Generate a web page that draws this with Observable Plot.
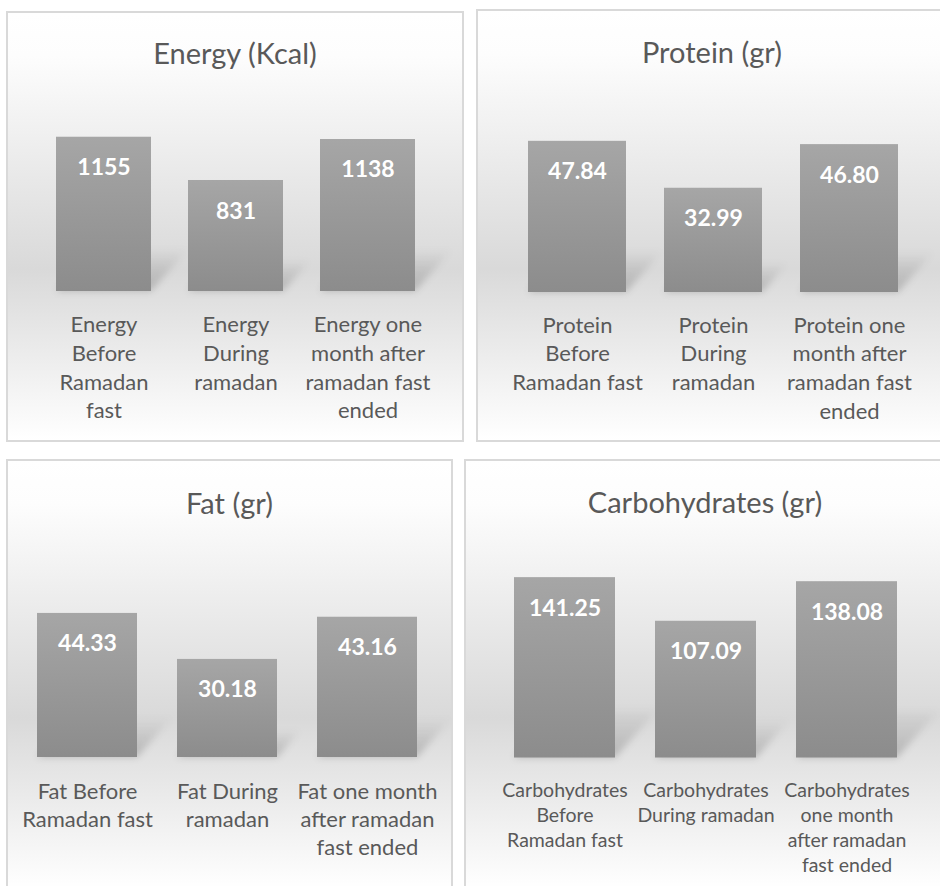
<!DOCTYPE html>
<html>
<head>
<meta charset="utf-8">
<script src="https://cdn.jsdelivr.net/npm/d3@7"></script>
<script src="https://cdn.jsdelivr.net/npm/@observablehq/plot@0.6"></script>
<style>
  html, body { margin: 0; padding: 0; }
  body { width: 940px; height: 886px; overflow: hidden; position: relative; background: #ffffff; font-family: Lato, "Open Sans", sans-serif; }
  .panel { position: absolute; box-sizing: border-box; border: 2px solid #d9d9d9;
    background: linear-gradient(to bottom, #ffffff 0%, #fdfdfd 10%, #d9d9d9 60%, #ececec 80%, #ffffff 100%); }
  .panel svg { position: absolute; left: -2px; top: -2px; }
  .title { position: absolute; left: -2px; right: -2px; text-align: center; color: #595959;
    font-family: Lato, sans-serif; font-size: 29px; line-height: 1.2; white-space: nowrap; }
</style>
</head>
<body>
<div id="root"></div>
<script>
// ---------- data ----------
const energyCategories = ["Energy\nBefore\nRamadan\nfast", "Energy\nDuring\nramadan", "Energy one\nmonth after\nramadan fast\nended"];
const energyValues = [1155, 831, 1138];

const proteinCategories = ["Protein\nBefore\nRamadan fast", "Protein\nDuring\nramadan", "Protein one\nmonth after\nramadan fast\nended"];
const proteinValues = [47.84, 32.99, 46.80];

const fatCategories = ["Fat Before\nRamadan fast", "Fat During\nramadan", "Fat one month\nafter ramadan\nfast ended"];
const fatValues = [44.33, 30.18, 43.16];

const carbCategories = ["Carbohydrates\nBefore\nRamadan fast", "Carbohydrates\nDuring ramadan", "Carbohydrates\none month\nafter ramadan\nfast ended"];
const carbValues = [141.25, 107.09, 138.08];

const panelTitles = ["Energy (Kcal)", "Protein (gr)", "Fat (gr)", "Carbohydrates (gr)"];

// ---------- layout ----------
const panels = [
  {title: panelTitles[0], cats: energyCategories, values: energyValues, fmt: d3.format("d"),
   left: 6, top: 11, width: 458, height: 431, titleTop: 23, xRange: [30.25, 427.75], yMax: 1400, yRange: [280, 93], catFont: 22, catLH: 1.3, catDy: 20.6},
  {title: panelTitles[1], cats: proteinCategories, values: proteinValues, fmt: d3.format(".2f"),
   left: 476, top: 9, width: 472, height: 433, titleTop: 24, xRange: [31.75, 441.25], yMax: 60, yRange: [283, 93.4], catFont: 22, catLH: 1.3, catDy: 20},
  {title: panelTitles[2], cats: fatCategories, values: fatValues, fmt: d3.format(".2f"),
   left: 6, top: 459, width: 447, height: 432, titleTop: 25, xRange: [10, 431.5], yMax: 60, yRange: [298, 103], catFont: 22, catLH: 1.28, catDy: 21},
  {title: panelTitles[3], cats: carbCategories, values: carbValues, fmt: d3.format(".2f"),
   left: 464, top: 459, width: 482, height: 432, titleTop: 24, xRange: [30, 453], yMax: 160, yRange: [298.5, 94.2], catFont: 19.5, catLH: 1.28, catDy: 21}
];

const root = document.getElementById("root");

panels.forEach((p, i) => {
  const div = document.createElement("div");
  div.className = "panel";
  Object.assign(div.style, {left: p.left + "px", top: p.top + "px", width: p.width + "px", height: p.height + "px"});
  root.appendChild(div);

  const data = p.cats.map((c, j) => ({cat: c, value: p.values[j]}));

  const chart = Plot.plot({
    width: p.width,
    height: p.height,
    margin: 0,
    style: {background: "transparent", maxWidth: "none", overflow: "visible"},
    x: {type: "band", domain: p.cats, range: p.xRange, paddingInner: 0.283, paddingOuter: 0.1415, axis: null},
    y: {domain: [0, p.yMax], range: p.yRange, axis: null},
    marks: [
      // perspective shadow (transformed after render)
      Plot.barY(data, {x: "cat", y: "value", fill: `url(#shadowGrad${i})`}),
      // bars
      Plot.barY(data, {x: "cat", y: "value", fill: `url(#barGrad${i})`}),
      // value labels
      Plot.text(data, {x: "cat", y: "value", text: d => p.fmt(d.value), lineAnchor: "bottom", dy: 38,
        fill: "#ffffff", fontSize: 23, fontWeight: "bold", fontFamily: "Lato, sans-serif"}),
      // category labels
      Plot.text(data, {x: "cat", y: 0, text: "cat", lineAnchor: "top", dy: p.catDy, lineHeight: p.catLH,
        fill: "#595959", fontSize: p.catFont, fontFamily: "Lato, sans-serif"})
    ]
  });

  const svg = d3.select(chart);
  const defs = svg.insert("defs", ":first-child");
  const bg = defs.append("linearGradient").attr("id", `barGrad${i}`).attr("x1", 0).attr("y1", 0).attr("x2", 0).attr("y2", 1);
  bg.append("stop").attr("offset", "0%").attr("stop-color", "#a6a6a6");
  bg.append("stop").attr("offset", "100%").attr("stop-color", "#8c8c8c");
  const sg = defs.append("linearGradient").attr("id", `shadowGrad${i}`).attr("x1", 0).attr("y1", 0).attr("x2", 0).attr("y2", 1);
  sg.append("stop").attr("offset", "0%").attr("stop-color", "#000").attr("stop-opacity", 0);
  sg.append("stop").attr("offset", "100%").attr("stop-color", "#000").attr("stop-opacity", 0.2);
  const f = defs.append("filter").attr("id", `blur${i}`).attr("x", "-20%").attr("y", "-20%").attr("width", "140%").attr("height", "140%");
  f.append("feGaussianBlur").attr("stdDeviation", 3.5);

  const base = chart.scale("y").apply(0);
  const groups = svg.selectAll("g[aria-label='bar']").nodes();
  const shadowG = d3.select(groups[0]).attr("filter", `url(#blur${i})`);
  shadowG.selectAll("rect").attr("transform", `translate(0,${base}) skewX(-42) scale(1,0.28) translate(0,${-base})`);

  div.appendChild(chart);

  const t = document.createElement("div");
  t.className = "title";
  t.style.top = p.titleTop + "px";
  t.textContent = p.title;
  div.appendChild(t);
});
</script>
</body>
</html>
